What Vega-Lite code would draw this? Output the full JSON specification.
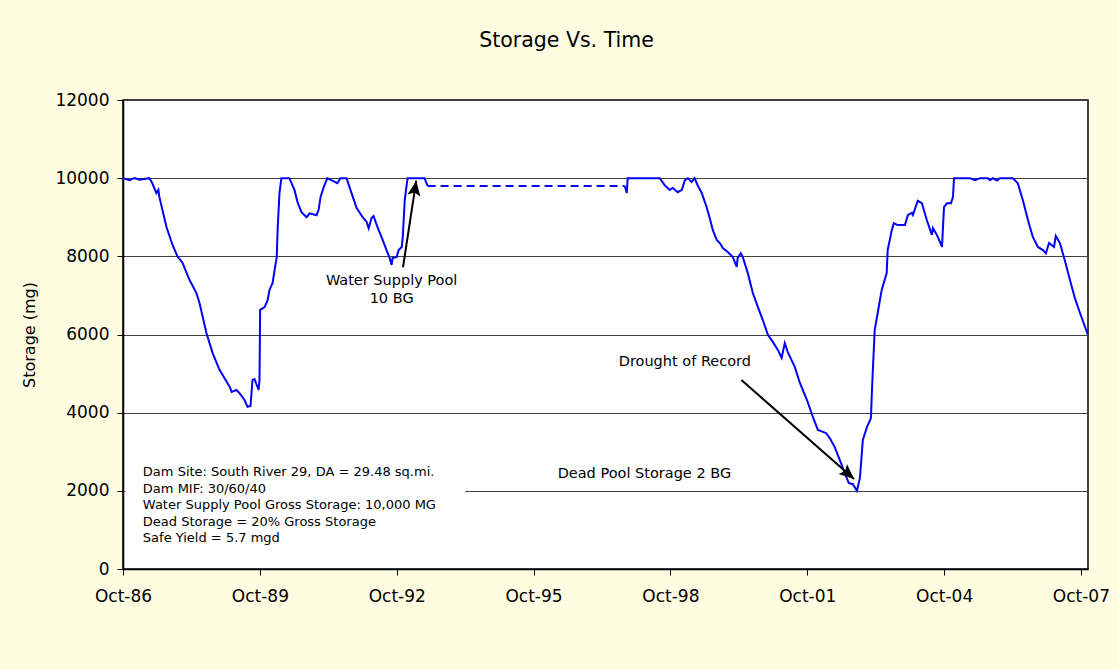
{
  "$schema": "https://vega.github.io/schema/vega-lite/v6.json",
  "width": 965,
  "height": 469,
  "autosize": {"type": "none"},
  "padding": {"left": 123, "top": 100, "right": 31, "bottom": 101},
  "background": "#fefde2",
  "config": {
    "font": "DejaVu Sans",
    "view": {"fill": "white", "stroke": "black", "strokeWidth": 1.5}
  },
  "title": {
    "text": "Storage Vs. Time",
    "font": "DejaVu Sans",
    "fontSize": 20.5,
    "fontWeight": "normal",
    "color": "black",
    "anchor": "middle",
    "baseline": "alphabetic",
    "dx": -39,
    "offset": 24
  },
  "datasets": {
    "main": [
      {"date": "1986-10-01", "storage": 10000, "seg": "A"},
      {"date": "1986-11-22", "storage": 9950, "seg": "A"},
      {"date": "1987-01-01", "storage": 10000, "seg": "A"},
      {"date": "1987-02-11", "storage": 9960, "seg": "A"},
      {"date": "1987-04-30", "storage": 10000, "seg": "A"},
      {"date": "1987-05-24", "storage": 9870, "seg": "A"},
      {"date": "1987-06-25", "storage": 9620, "seg": "A"},
      {"date": "1987-07-11", "storage": 9700, "seg": "A"},
      {"date": "1987-07-19", "storage": 9520, "seg": "A"},
      {"date": "1987-09-14", "storage": 8750, "seg": "A"},
      {"date": "1987-11-02", "storage": 8290, "seg": "A"},
      {"date": "1987-12-11", "storage": 8000, "seg": "A"},
      {"date": "1988-01-21", "storage": 7830, "seg": "A"},
      {"date": "1988-03-16", "storage": 7400, "seg": "A"},
      {"date": "1988-05-11", "storage": 7060, "seg": "A"},
      {"date": "1988-06-05", "storage": 6800, "seg": "A"},
      {"date": "1988-07-30", "storage": 6040, "seg": "A"},
      {"date": "1988-09-17", "storage": 5530, "seg": "A"},
      {"date": "1988-11-13", "storage": 5090, "seg": "A"},
      {"date": "1989-02-02", "storage": 4660, "seg": "A"},
      {"date": "1989-02-17", "storage": 4530, "seg": "A"},
      {"date": "1989-03-27", "storage": 4580, "seg": "A"},
      {"date": "1989-04-21", "storage": 4500, "seg": "A"},
      {"date": "1989-05-30", "storage": 4330, "seg": "A"},
      {"date": "1989-06-24", "storage": 4150, "seg": "A"},
      {"date": "1989-07-18", "storage": 4170, "seg": "A"},
      {"date": "1989-08-03", "storage": 4840, "seg": "A"},
      {"date": "1989-08-19", "storage": 4860, "seg": "A"},
      {"date": "1989-09-21", "storage": 4580, "seg": "A"},
      {"date": "1989-09-28", "storage": 4840, "seg": "A"},
      {"date": "1989-10-03", "storage": 6630, "seg": "A"},
      {"date": "1989-11-08", "storage": 6700, "seg": "A"},
      {"date": "1989-12-02", "storage": 6880, "seg": "A"},
      {"date": "1989-12-17", "storage": 7140, "seg": "A"},
      {"date": "1990-01-11", "storage": 7320, "seg": "A"},
      {"date": "1990-01-27", "storage": 7650, "seg": "A"},
      {"date": "1990-02-13", "storage": 7980, "seg": "A"},
      {"date": "1990-02-21", "storage": 8750, "seg": "A"},
      {"date": "1990-03-07", "storage": 9620, "seg": "A"},
      {"date": "1990-03-22", "storage": 10000, "seg": "A"},
      {"date": "1990-05-25", "storage": 10000, "seg": "A"},
      {"date": "1990-07-05", "storage": 9700, "seg": "A"},
      {"date": "1990-07-29", "storage": 9390, "seg": "A"},
      {"date": "1990-08-30", "storage": 9130, "seg": "A"},
      {"date": "1990-10-10", "storage": 9000, "seg": "A"},
      {"date": "1990-11-03", "storage": 9100, "seg": "A"},
      {"date": "1990-12-29", "storage": 9050, "seg": "A"},
      {"date": "1991-01-14", "storage": 9190, "seg": "A"},
      {"date": "1991-01-30", "storage": 9520, "seg": "A"},
      {"date": "1991-02-24", "storage": 9770, "seg": "A"},
      {"date": "1991-03-25", "storage": 10000, "seg": "A"},
      {"date": "1991-06-14", "storage": 9870, "seg": "A"},
      {"date": "1991-07-08", "storage": 10000, "seg": "A"},
      {"date": "1991-08-26", "storage": 10000, "seg": "A"},
      {"date": "1991-09-19", "storage": 9770, "seg": "A"},
      {"date": "1991-11-14", "storage": 9240, "seg": "A"},
      {"date": "1992-01-02", "storage": 9000, "seg": "A"},
      {"date": "1992-02-03", "storage": 8880, "seg": "A"},
      {"date": "1992-02-19", "storage": 8720, "seg": "A"},
      {"date": "1992-03-13", "storage": 8980, "seg": "A"},
      {"date": "1992-03-29", "storage": 9030, "seg": "A"},
      {"date": "1992-04-30", "storage": 8750, "seg": "A"},
      {"date": "1992-06-10", "storage": 8420, "seg": "A"},
      {"date": "1992-07-11", "storage": 8160, "seg": "A"},
      {"date": "1992-08-05", "storage": 7960, "seg": "A"},
      {"date": "1992-08-21", "storage": 7780, "seg": "A"},
      {"date": "1992-08-29", "storage": 7960, "seg": "A"},
      {"date": "1992-09-30", "storage": 7980, "seg": "A"},
      {"date": "1992-10-16", "storage": 8160, "seg": "A"},
      {"date": "1992-11-10", "storage": 8240, "seg": "A"},
      {"date": "1992-11-18", "storage": 8490, "seg": "A"},
      {"date": "1992-12-04", "storage": 9440, "seg": "A"},
      {"date": "1992-12-19", "storage": 9820, "seg": "A"},
      {"date": "1992-12-27", "storage": 10000, "seg": "A"},
      {"date": "1993-05-11", "storage": 10000, "seg": "A"},
      {"date": "1993-06-05", "storage": 9800, "seg": "A"},
      {"date": "1997-10-01", "storage": 9800, "seg": "B"},
      {"date": "1997-10-17", "storage": 9620, "seg": "B"},
      {"date": "1997-10-24", "storage": 10000, "seg": "B"},
      {"date": "1998-07-07", "storage": 10000, "seg": "B"},
      {"date": "1998-08-16", "storage": 9820, "seg": "B"},
      {"date": "1998-09-26", "storage": 9700, "seg": "B"},
      {"date": "1998-10-20", "storage": 9750, "seg": "B"},
      {"date": "1998-11-29", "storage": 9640, "seg": "B"},
      {"date": "1999-01-01", "storage": 9700, "seg": "B"},
      {"date": "1999-01-25", "storage": 9950, "seg": "B"},
      {"date": "1999-02-18", "storage": 10000, "seg": "B"},
      {"date": "1999-03-20", "storage": 9900, "seg": "B"},
      {"date": "1999-04-13", "storage": 10000, "seg": "B"},
      {"date": "1999-05-07", "storage": 9820, "seg": "B"},
      {"date": "1999-06-09", "storage": 9620, "seg": "B"},
      {"date": "1999-07-18", "storage": 9260, "seg": "B"},
      {"date": "1999-08-12", "storage": 8980, "seg": "B"},
      {"date": "1999-09-06", "storage": 8670, "seg": "B"},
      {"date": "1999-10-07", "storage": 8420, "seg": "B"},
      {"date": "1999-11-01", "storage": 8340, "seg": "B"},
      {"date": "1999-11-25", "storage": 8210, "seg": "B"},
      {"date": "2000-01-04", "storage": 8110, "seg": "B"},
      {"date": "2000-02-13", "storage": 7980, "seg": "B"},
      {"date": "2000-03-15", "storage": 7730, "seg": "B"},
      {"date": "2000-03-23", "storage": 7960, "seg": "B"},
      {"date": "2000-04-17", "storage": 8080, "seg": "B"},
      {"date": "2000-05-03", "storage": 7980, "seg": "B"},
      {"date": "2000-06-12", "storage": 7570, "seg": "B"},
      {"date": "2000-07-22", "storage": 7060, "seg": "B"},
      {"date": "2000-09-01", "storage": 6700, "seg": "B"},
      {"date": "2000-10-10", "storage": 6370, "seg": "B"},
      {"date": "2000-11-20", "storage": 5990, "seg": "B"},
      {"date": "2000-12-29", "storage": 5810, "seg": "B"},
      {"date": "2001-02-09", "storage": 5600, "seg": "B"},
      {"date": "2001-03-10", "storage": 5400, "seg": "B"},
      {"date": "2001-04-04", "storage": 5780, "seg": "B"},
      {"date": "2001-04-28", "storage": 5550, "seg": "B"},
      {"date": "2001-06-23", "storage": 5170, "seg": "B"},
      {"date": "2001-08-03", "storage": 4760, "seg": "B"},
      {"date": "2001-09-28", "storage": 4330, "seg": "B"},
      {"date": "2001-11-15", "storage": 3890, "seg": "B"},
      {"date": "2001-12-25", "storage": 3560, "seg": "B"},
      {"date": "2002-02-04", "storage": 3510, "seg": "B"},
      {"date": "2002-02-28", "storage": 3480, "seg": "B"},
      {"date": "2002-03-30", "storage": 3350, "seg": "B"},
      {"date": "2002-05-09", "storage": 3120, "seg": "B"},
      {"date": "2002-06-18", "storage": 2790, "seg": "B"},
      {"date": "2002-07-28", "storage": 2460, "seg": "B"},
      {"date": "2002-08-29", "storage": 2200, "seg": "B"},
      {"date": "2002-10-01", "storage": 2170, "seg": "B"},
      {"date": "2002-11-03", "storage": 2000, "seg": "B"},
      {"date": "2002-11-27", "storage": 2330, "seg": "B"},
      {"date": "2002-12-20", "storage": 3300, "seg": "B"},
      {"date": "2003-01-22", "storage": 3630, "seg": "B"},
      {"date": "2003-02-23", "storage": 3860, "seg": "B"},
      {"date": "2003-03-01", "storage": 4400, "seg": "B"},
      {"date": "2003-03-09", "storage": 5010, "seg": "B"},
      {"date": "2003-03-25", "storage": 6110, "seg": "B"},
      {"date": "2003-04-18", "storage": 6550, "seg": "B"},
      {"date": "2003-05-20", "storage": 7140, "seg": "B"},
      {"date": "2003-06-29", "storage": 7570, "seg": "B"},
      {"date": "2003-07-07", "storage": 8160, "seg": "B"},
      {"date": "2003-08-09", "storage": 8670, "seg": "B"},
      {"date": "2003-08-25", "storage": 8850, "seg": "B"},
      {"date": "2003-09-26", "storage": 8800, "seg": "B"},
      {"date": "2003-11-22", "storage": 8800, "seg": "B"},
      {"date": "2003-12-16", "storage": 9060, "seg": "B"},
      {"date": "2004-01-17", "storage": 9110, "seg": "B"},
      {"date": "2004-01-25", "storage": 9060, "seg": "B"},
      {"date": "2004-03-04", "storage": 9420, "seg": "B"},
      {"date": "2004-04-06", "storage": 9360, "seg": "B"},
      {"date": "2004-05-15", "storage": 8930, "seg": "B"},
      {"date": "2004-06-25", "storage": 8550, "seg": "B"},
      {"date": "2004-07-03", "storage": 8720, "seg": "B"},
      {"date": "2004-08-04", "storage": 8550, "seg": "B"},
      {"date": "2004-09-14", "storage": 8240, "seg": "B"},
      {"date": "2004-09-22", "storage": 8750, "seg": "B"},
      {"date": "2004-09-30", "storage": 9260, "seg": "B"},
      {"date": "2004-10-24", "storage": 9360, "seg": "B"},
      {"date": "2004-11-25", "storage": 9360, "seg": "B"},
      {"date": "2004-12-11", "storage": 9520, "seg": "B"},
      {"date": "2004-12-19", "storage": 10000, "seg": "B"},
      {"date": "2005-04-25", "storage": 10000, "seg": "B"},
      {"date": "2005-06-05", "storage": 9950, "seg": "B"},
      {"date": "2005-07-14", "storage": 10000, "seg": "B"},
      {"date": "2005-09-17", "storage": 10000, "seg": "B"},
      {"date": "2005-10-03", "storage": 9950, "seg": "B"},
      {"date": "2005-10-27", "storage": 10000, "seg": "B"},
      {"date": "2005-11-28", "storage": 9940, "seg": "B"},
      {"date": "2005-12-22", "storage": 10000, "seg": "B"},
      {"date": "2006-04-04", "storage": 10000, "seg": "B"},
      {"date": "2006-05-14", "storage": 9870, "seg": "B"},
      {"date": "2006-06-23", "storage": 9440, "seg": "B"},
      {"date": "2006-08-03", "storage": 8930, "seg": "B"},
      {"date": "2006-09-12", "storage": 8490, "seg": "B"},
      {"date": "2006-10-22", "storage": 8240, "seg": "B"},
      {"date": "2006-12-01", "storage": 8160, "seg": "B"},
      {"date": "2006-12-25", "storage": 8080, "seg": "B"},
      {"date": "2007-01-19", "storage": 8340, "seg": "B"},
      {"date": "2007-02-28", "storage": 8240, "seg": "B"},
      {"date": "2007-03-14", "storage": 8520, "seg": "B"},
      {"date": "2007-04-16", "storage": 8340, "seg": "B"},
      {"date": "2007-05-25", "storage": 7900, "seg": "B"},
      {"date": "2007-07-05", "storage": 7400, "seg": "B"},
      {"date": "2007-08-14", "storage": 6930, "seg": "B"},
      {"date": "2007-09-24", "storage": 6550, "seg": "B"},
      {"date": "2007-11-25", "storage": 6000, "seg": "B"}
    ],
    "gap": [
      {"date": "1993-06-05", "storage": 9800},
      {"date": "1997-10-01", "storage": 9800}
    ],
    "box": [
      {"date": "1986-10-20", "date2": "1994-04-01", "storage": 409, "storage2": 2917}
    ],
    "notes": [
      {"date": "1987-03-09", "storage": 2630, "label": "Dam Site: South River 29, DA = 29.48 sq.mi.\nDam MIF: 30/60/40\nWater Supply Pool Gross Storage: 10,000 MG\nDead Storage = 20% Gross Storage\nSafe Yield = 5.7 mgd"}
    ],
    "labels": [
      {"date": "1992-08-21", "storage": 7538, "label": "Water Supply Pool\n10 BG"},
      {"date": "1999-01-25", "storage": 5480, "label": "Drought of Record"},
      {"date": "1998-03-07", "storage": 2600, "label": "Dead Pool Storage 2 BG"}
    ],
    "arrowlines": [
      {"name": "pool", "date": "1992-11-20", "storage": 7720},
      {"name": "pool", "date": "1993-03-06", "storage": 9935},
      {"name": "drought", "date": "2000-04-22", "storage": 4836},
      {"name": "drought", "date": "2002-10-11", "storage": 2303}
    ],
    "heads": [
      {"name": "pool", "date": "1993-03-06", "storage": 9935},
      {"name": "drought", "date": "2002-10-11", "storage": 2303}
    ]
  },
  "encoding": {
    "x": {
      "field": "date",
      "type": "temporal",
      "scale": {"domain": [{"year": 1986, "month": 10, "date": 1}, {"year": 2007, "month": 11, "date": 27}]},
      "axis": {
        "title": null,
        "values": [
          {"year": 1986, "month": 10, "date": 1},
          {"year": 1989, "month": 10, "date": 1},
          {"year": 1992, "month": 10, "date": 1},
          {"year": 1995, "month": 10, "date": 1},
          {"year": 1998, "month": 10, "date": 1},
          {"year": 2001, "month": 10, "date": 1},
          {"year": 2004, "month": 10, "date": 1},
          {"year": 2007, "month": 10, "date": 1}
        ],
        "format": "%b-%y",
        "grid": false,
        "labelFont": "DejaVu Sans",
        "labelFontSize": 17,
        "labelColor": "black",
        "labelPadding": 13,
        "labelFlush": false,
        "labelOverlap": false,
        "tickColor": "black",
        "tickSize": 6,
        "domainColor": "black",
        "domainWidth": 1.5
      }
    },
    "y": {
      "field": "storage",
      "type": "quantitative",
      "scale": {"domain": [0, 12000], "nice": false},
      "axis": {
        "title": "Storage (mg)",
        "values": [0, 2000, 4000, 6000, 8000, 10000, 12000],
        "format": "d",
        "grid": true,
        "gridColor": "#404040",
        "gridWidth": 1,
        "labelFont": "DejaVu Sans",
        "labelFontSize": 17,
        "labelColor": "black",
        "labelPadding": 8,
        "tickColor": "black",
        "tickSize": 6,
        "domainColor": "black",
        "domainWidth": 1.5,
        "titleFont": "DejaVu Sans",
        "titleFontSize": 16,
        "titleFontWeight": "normal",
        "titleColor": "black",
        "titlePadding": 17
      }
    }
  },
  "layer": [
    {
      "data": {"name": "box"},
      "mark": {"type": "rect", "color": "white"},
      "encoding": {
        "x2": {"field": "date2"},
        "y2": {"field": "storage2"}
      }
    },
    {
      "data": {"name": "main"},
      "mark": {"type": "line", "color": "#0000ff", "strokeWidth": 2},
      "encoding": {"detail": {"field": "seg"}}
    },
    {
      "data": {"name": "gap"},
      "mark": {"type": "line", "color": "#0000ff", "strokeWidth": 2, "strokeDash": [8, 5]}
    },
    {
      "data": {"name": "notes"},
      "mark": {"type": "text", "align": "left", "baseline": "top", "font": "DejaVu Sans", "fontSize": 13, "lineHeight": 16.5, "lineBreak": "\n", "color": "black"},
      "encoding": {"text": {"field": "label"}}
    },
    {
      "data": {"name": "labels"},
      "mark": {"type": "text", "align": "center", "baseline": "top", "font": "DejaVu Sans", "fontSize": 14.5, "lineHeight": 17.6, "lineBreak": "\n", "color": "black"},
      "encoding": {"text": {"field": "label"}}
    },
    {
      "data": {"name": "arrowlines"},
      "mark": {"type": "line", "color": "black", "strokeWidth": 2},
      "encoding": {"detail": {"field": "name"}}
    },
    {
      "data": {"name": "heads"},
      "transform": [{"filter": "datum.name === 'pool'"}],
      "mark": {"type": "point", "shape": "M0,0L1.3,3L0,2.4L-1.3,3Z", "size": 100, "filled": true, "color": "black", "opacity": 1, "angle": 8.8}
    },
    {
      "data": {"name": "heads"},
      "transform": [{"filter": "datum.name === 'drought'"}],
      "mark": {"type": "point", "shape": "M0,0L1.3,3L0,2.4L-1.3,3Z", "size": 100, "filled": true, "color": "black", "opacity": 1, "angle": 131.3}
    }
  ]
}
